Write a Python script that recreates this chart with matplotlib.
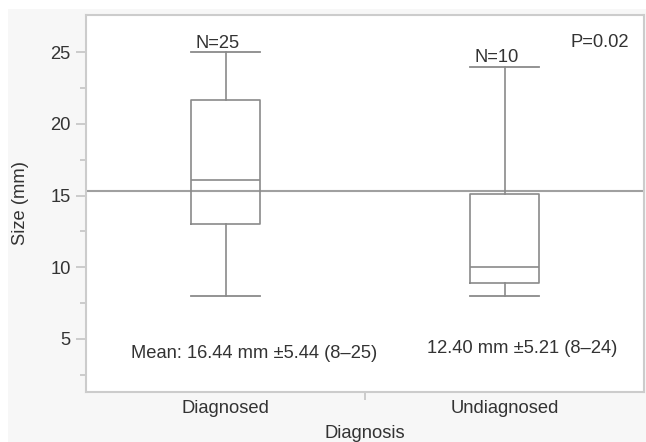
import matplotlib.pyplot as plt
from matplotlib.patches import Rectangle

# box summary
groups = ["Diagnosed", "Undiagnosed"]
whislo = [8, 8]
q1 = [13.0, 8.9]
med = [16.1, 10.0]
q3 = [21.7, 15.1]
whishi = [25, 24]
n_labels = ["N=25", "N=10"]
mean_labels = ["Mean: 16.44 mm \u00b15.44 (8\u201325)", "12.40 mm \u00b15.21 (8\u201324)"]
mean_label_y = [4.0, 4.3]
grand_mean = 15.29
p_text = "P=0.02"

plt.rcParams['font.family'] = ['Liberation Sans', 'DejaVu Sans']

fig = plt.figure(figsize=(6.46, 4.42), dpi=100, facecolor='white')
# light gray panel behind everything
fig.patches.append(Rectangle((8 / 646, 0), 1, 1 - 9 / 442, transform=fig.transFigure,
                             facecolor='#f7f7f7', edgecolor='none', zorder=-10))
ax = fig.add_axes([86 / 646, 1 - 392 / 442, 558 / 646, 377 / 442])
ax.set_facecolor('white')

stats = []
for i in range(len(groups)):
    stats.append(dict(whislo=whislo[i], q1=q1[i], med=med[i], q3=q3[i],
                      whishi=whishi[i], fliers=[], label=groups[i]))

lc = '#8a8a8a'
ax.bxp(stats, positions=[0, 1], widths=0.245, showfliers=False,
       boxprops=dict(color=lc, lw=1.2),
       whiskerprops=dict(color=lc, lw=1.2),
       capprops=dict(color=lc, lw=1.3),
       medianprops=dict(color=lc, lw=1.2),
       capwidths=0.245)

ax.axhline(grand_mean, color='#a0a0a0', lw=1.5, zorder=0)

tc = '#333333'
fs = 13.2
for i in range(len(groups)):
    ax.text(i - 0.029, whishi[i] + 0.05, n_labels[i],
            ha='center', va='bottom', fontsize=fs, color=tc)
ax.text(0.104, mean_label_y[0], mean_labels[0], ha='center', va='center', fontsize=fs, color=tc)
ax.text(1.065, mean_label_y[1], mean_labels[1], ha='center', va='center', fontsize=fs, color=tc)
ax.text(1.34, 25.7, p_text, ha='center', va='center', fontsize=fs, color=tc)

ax.set_xlim(-0.5, 1.5)
ax.set_ylim(1.3, 27.6)
ax.set_yticks([5, 10, 15, 20, 25])
ax.set_yticks([2.5, 7.5, 12.5, 17.5, 22.5], minor=True)
ax.set_xticks([0, 1])
ax.set_xticklabels(groups)
ax.set_xticks([0.5], minor=True)

for s in ax.spines.values():
    s.set_color('#cccccc')
    s.set_linewidth(1.5)
ax.tick_params(axis='both', which='both', colors='#c4c4c4', labelcolor=tc, labelsize=fs, width=1.2)
ax.tick_params(axis='y', which='major', length=7, pad=4)
ax.tick_params(axis='y', which='minor', length=4)
ax.tick_params(axis='x', which='major', length=0, pad=6)
ax.tick_params(axis='x', which='minor', length=6)

ax.set_ylabel("Size (mm)", fontsize=fs, color=tc, va='center')
ax.yaxis.set_label_coords(-0.117, 0.5)
ax.set_xlabel("Diagnosis", fontsize=fs, color=tc)
ax.xaxis.set_label_coords(0.499, -0.11)
ax.xaxis.label.set_va('center')

fig.savefig("out.png", dpi=100, facecolor=fig.get_facecolor())
